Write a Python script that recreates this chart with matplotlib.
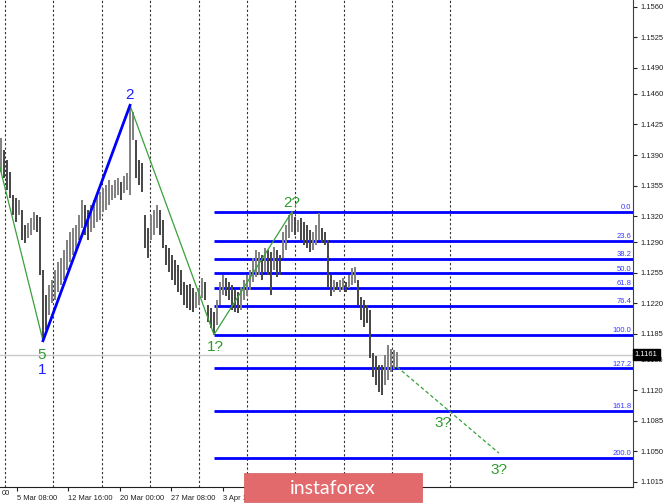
import matplotlib
matplotlib.use("Agg")
import matplotlib.pyplot as plt
import matplotlib.transforms as mtransforms
from matplotlib.patches import Rectangle
import numpy as np

# price bars (one bar per ~8h)
highs = [1.1410, 1.1396, 1.1384, 1.1370, 1.1344, 1.1341, 1.1338, 1.1327, 1.1310, 1.1312,
         1.1318, 1.1325, 1.1321, 1.1319, 1.1258, 1.1229, 1.1241, 1.1247, 1.1258, 1.1267,
         1.1272, 1.1281, 1.1292, 1.1302, 1.1306, 1.1310, 1.1321, 1.1338, 1.1333, 1.1327,
         1.1333, 1.1338, 1.1344, 1.1348, 1.1352, 1.1356, 1.1361, 1.1356, 1.1361, 1.1364,
         1.1359, 1.1366, 1.1369, 1.1447, 1.1439, 1.1407, 1.1384, 1.1381, 1.1321, 1.1306,
         1.1321, 1.1327, 1.1333, 1.1327, 1.1315, 1.1287, 1.1283, 1.1275, 1.1270, 1.1264,
         1.1258, 1.1244, 1.1241, 1.1242, 1.1237, 1.1233, 1.1237, 1.1249, 1.1244, 1.1218,
         1.1215, 1.1210, 1.1224, 1.1244, 1.1252, 1.1249, 1.1244, 1.1241, 1.1235, 1.1233,
         1.1239, 1.1247, 1.1252, 1.1258, 1.1272, 1.1281, 1.1279, 1.1275, 1.1283, 1.1281,
         1.1279, 1.1284, 1.1281, 1.1275, 1.1302, 1.1310, 1.1321, 1.1325, 1.1319, 1.1315,
         1.1318, 1.1313, 1.1310, 1.1304, 1.1302, 1.1310, 1.1323, 1.1306, 1.1302, 1.1292,
         1.1252, 1.1247, 1.1244, 1.1247, 1.1249, 1.1244, 1.1252, 1.1260, 1.1262, 1.1247,
         1.1227, 1.1224, 1.1218, 1.1212, 1.1163, 1.1159, 1.1149, 1.1149, 1.1161, 1.1172,
         1.1168, 1.1166, 1.1164]
lows = [1.1370, 1.1364, 1.1350, 1.1341, 1.1321, 1.1313, 1.1321, 1.1292, 1.1289, 1.1295,
        1.1298, 1.1304, 1.1302, 1.1252, 1.1177, 1.1189, 1.1206, 1.1220, 1.1224, 1.1233,
        1.1241, 1.1247, 1.1258, 1.1267, 1.1275, 1.1281, 1.1292, 1.1306, 1.1298, 1.1292,
        1.1302, 1.1306, 1.1313, 1.1315, 1.1325, 1.1327, 1.1333, 1.1338, 1.1341, 1.1344,
        1.1338, 1.1346, 1.1350, 1.1344, 1.1407, 1.1364, 1.1356, 1.1348, 1.1283, 1.1272,
        1.1292, 1.1298, 1.1306, 1.1298, 1.1283, 1.1264, 1.1256, 1.1247, 1.1241, 1.1233,
        1.1229, 1.1218, 1.1215, 1.1212, 1.1210, 1.1215, 1.1218, 1.1226, 1.1224, 1.1198,
        1.1192, 1.1184, 1.1195, 1.1218, 1.1229, 1.1228, 1.1224, 1.1212, 1.1210, 1.1209,
        1.1212, 1.1224, 1.1228, 1.1235, 1.1244, 1.1250, 1.1252, 1.1247, 1.1256, 1.1252,
        1.1229, 1.1258, 1.1250, 1.1252, 1.1272, 1.1281, 1.1295, 1.1302, 1.1298, 1.1302,
        1.1292, 1.1287, 1.1283, 1.1279, 1.1281, 1.1287, 1.1292, 1.1289, 1.1287, 1.1239,
        1.1228, 1.1233, 1.1235, 1.1233, 1.1235, 1.1233, 1.1237, 1.1241, 1.1243, 1.1218,
        1.1201, 1.1193, 1.1197, 1.1157, 1.1135, 1.1126, 1.1118, 1.1115, 1.1126, 1.1132,
        1.1141, 1.1145, 1.1147]

# wave pivots (bar index, price)
zig_idx = [-4, 14, 43, 71, 97]
zig_px = [1.1426, 1.1177, 1.1447, 1.1184, 1.1325]
wave1_idx = [14, 43]
wave1_px = [1.1177, 1.1447]
proj_idx = [132, 166]
proj_px = [1.1147, 1.1048]

# fibonacci grid from 1? low to 2? high
fib_start = 71
fib_top = 1.1325
fib_bottom = 1.1184
fib_levels = [0.0, 23.6, 38.2, 50.0, 61.8, 76.4, 100.0, 127.2, 161.8, 200.0]

last_price = 1.1161

yticks = [1.1560, 1.1525, 1.1490, 1.1460, 1.1425, 1.1390, 1.1355, 1.1320, 1.1290,
          1.1255, 1.1220, 1.1185, 1.1155, 1.1120, 1.1085, 1.1050, 1.1015]
xtick_pos = [5.33, 22.33, 39.6, 56.67, 74.0]
xtick_labels = ["5 Mar 08:00", "12 Mar 16:00", "20 Mar 00:00", "27 Mar 08:00", "3 Apr 16:00"]
vgrid = [1.33, 17.33, 33.67, 49.67, 66, 82, 98, 114.33, 130.33, 149.67]

wave_labels = [("5", 13.6, 1.1161, "#2f9a2f"), ("1", 13.6, 1.1143, "#2020ff"),
               ("2", 42.7, 1.1459, "#2020ff"), ("1?", 71.3, 1.1170, "#2f9a2f"),
               ("2?", 96.9, 1.1335, "#2f9a2f"), ("3?", 147.4, 1.1083, "#2f9a2f"),
               ("3?", 166.0, 1.1029, "#2f9a2f")]

plt.rcParams["font.family"] = ["Liberation Sans", "DejaVu Sans"]

fig = plt.figure(figsize=(6.65, 5.04), dpi=100)
ax = fig.add_axes([0, 17 / 504, 633 / 665, 487 / 504])
ax.set_xlim(-1 / 3, 632 / 3)
ax.set_ylim(1.10092, 1.15678)

for g in vgrid:
    ax.axvline(g, color="#303030", lw=0.8, ls=(0, (2, 2)), zorder=1)

ax.axhline(last_price, color="#c8c8c8", lw=1, zorder=1)

x = np.arange(len(highs))
mids = (np.array(highs) + np.array(lows)) / 2
cols = ["#808080" if i == 0 or mids[i] >= mids[i - 1] else "#454545" for i in range(len(x))]
ax.vlines(x, lows, highs, colors=cols, lw=1.4, zorder=3)

# fibo
rng = fib_top - fib_bottom
blend = mtransforms.blended_transform_factory(ax.transAxes, ax.transData)
for lv in fib_levels:
    y = fib_top - rng * lv / 100
    ax.plot([fib_start, 300], [y, y], color="#0000ff", lw=2, zorder=2, solid_capstyle="butt")
    ax.text(0.997, y + 0.00004, f"{lv:.1f}", transform=blend, ha="right", va="bottom",
            fontsize=5.5, color="#3a3aff", zorder=5)

ax.plot(zig_idx, zig_px, color="#3aa03a", lw=0.9, zorder=4)
ax.plot(wave1_idx, wave1_px, color="#0000ff", lw=2, zorder=4)
ax.plot(proj_idx, proj_px, color="#3aa03a", lw=0.9, ls=(0, (3, 2)), zorder=4)

for t, xi, yi, c in wave_labels:
    ax.text(xi, yi, t, color=c, fontsize=11, ha="center", va="center", zorder=6)

for s in ["top", "left"]:
    ax.spines[s].set_visible(False)
ax.spines["right"].set_color("#404040")
ax.spines["bottom"].set_color("#202020")

ax.yaxis.tick_right()
ax.set_yticks(yticks)
ax.set_yticklabels([f"{v:.4f}" for v in yticks], fontsize=5.4)
ax.tick_params(axis="y", direction="out", length=3, width=0.8, pad=2, colors="#202020")
ax.set_xticks(xtick_pos)
ax.set_xticklabels(xtick_labels, fontsize=5.4, ha="left")
ax.tick_params(axis="x", direction="out", length=3, width=0.8, pad=3, colors="#202020")
# tail of the previous date label, cut by the left edge in the reference
ax.text(3.0, -0.007, "00", transform=mtransforms.blended_transform_factory(ax.transData, ax.transAxes),
        ha="right", va="top", fontsize=5.4, color="#202020", clip_on=False)

# last price marker
ax.text(1.003, last_price, f"{last_price:.4f}", transform=blend, ha="left", va="center",
        fontsize=5.4, color="white", zorder=7, clip_on=False,
        bbox=dict(boxstyle="square,pad=0.25", fc="black", ec="black"))

# instaforex badge
fig.patches.append(Rectangle((244 / 665, 2 / 504), 178 / 665, 29 / 504, transform=fig.transFigure,
                             facecolor="#e2696c", edgecolor="#d25a5d", lw=0.5, zorder=10))
fig.text(333 / 665, 16 / 504, "instaforex", color="white", fontsize=14, family="Lato",
         ha="center", va="center", zorder=11)

fig.savefig("out.png", dpi=100, facecolor="white")
